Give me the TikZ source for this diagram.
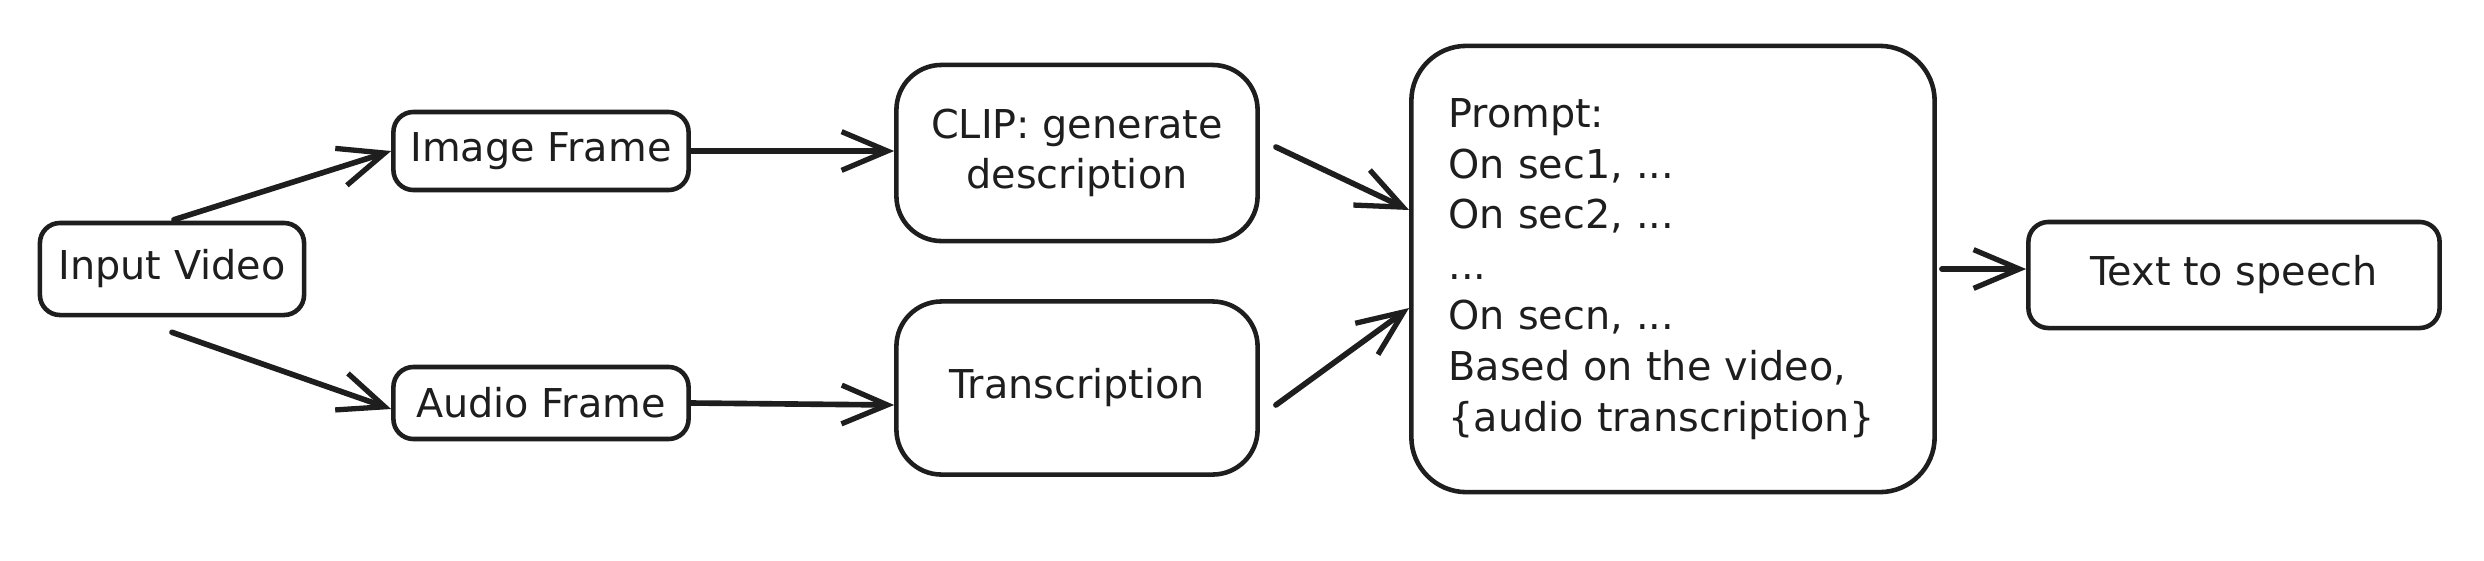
\documentclass[tikz,border=0pt]{standalone}
\usepackage{fontspec}
\setmainfont{DejaVu Sans}
\usetikzlibrary{arrows.meta,calc}
\definecolor{ink}{HTML}{1E1E1E}
\begin{document}
\begin{tikzpicture}[x=0.01cm,y=-0.01cm,
  every node/.style={font=\fontsize{11.3}{14.4}\selectfont, text=ink},
  smallbox/.style={draw=ink, line width=1.3pt, rounded corners=0.2cm, align=center, inner sep=0pt},
  bigbox/.style={draw=ink, line width=1.3pt, rounded corners=0.45cm, align=center, inner sep=0pt},
  flow/.style={draw=ink, line width=1.6pt, line cap=round, -{Straight Barb[length=13pt,width=11pt,line width=1.5pt]}}
]
\useasboundingbox (0,0) rectangle (2484,560);
\fill[white] (0,0) rectangle (2484,560);

\node[smallbox, minimum width=2.64cm, minimum height=0.92cm] (invid) at (172,269) {Input Video};
\node[smallbox, minimum width=2.95cm, minimum height=0.78cm] (imgf) at (541,151) {Image Frame};
\node[smallbox, minimum width=2.95cm, minimum height=0.72cm] (audf) at (541,403) {Audio Frame};
\node[bigbox, minimum width=3.61cm, minimum height=1.76cm] (clip) at (1077,153) {CLIP: generate\\description};
\node[bigbox, minimum width=3.61cm, minimum height=1.73cm] (trans) at (1077,388) {Transcription};
\node[draw=ink, line width=1.3pt, rounded corners=0.55cm, minimum height=4.46cm,
      text width=4.49cm, inner xsep=0.37cm, inner ysep=0pt, align=left] (prompt) at (1673,269)
  {Prompt:\\On sec1, ...\\On sec2, ...\\...\\On secn, ...\\Based on the video,\\\{audio transcription\}};
\node[smallbox, minimum width=4.11cm, minimum height=1.06cm] (tts) at (2234,275) {Text to speech};

\draw[flow] ($(invid.north)+(2,-1)$) -- (imgf.west);
\draw[flow] ($(invid.south)+(0,15)$) -- ($(audf.west)+(0,6)$);
\draw[flow] (imgf.east) -- (imgf.east -| clip.west);
\draw[flow] (audf.east) -- ($(audf.east -| trans.west)+(0,2)$);
\draw[flow] ($(clip.east)+(16,-6)$) -- ($(prompt.west)+(0,-59)$);
\draw[flow] ($(trans.east)+(16,17)$) -- ($(prompt.west)+(0,39)$);
\draw[flow] ($(prompt.east)+(5,0)$) -- (prompt.east -| tts.west);
\end{tikzpicture}
\end{document}
